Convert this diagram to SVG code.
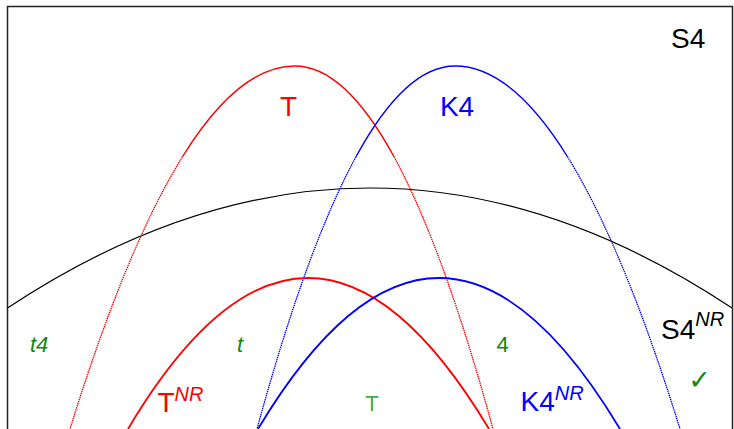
<svg xmlns="http://www.w3.org/2000/svg" width="734" height="429" viewBox="0 0 734 429">
<style>
text{font-family:"Liberation Sans",Arial,sans-serif}
.big{font-size:28px}
.sup{font-size:20px;font-style:italic}
.g{font-size:22px;fill:#118811}
.c{fill:none}
.red{stroke:#ff0000}
.blue{stroke:#0000ff}
.outer{stroke-width:1.4}
.dot{stroke-width:1.3;stroke-dasharray:1.5 0.7}
.inner{stroke-width:1.8}
</style>
<rect x="7.5" y="6.5" width="725" height="440" fill="#ffffff" stroke="#222222" stroke-width="1.5"/>
<g id="connectors">
<path id="S4NR-boundary" class="c" d="M7.5,308 Q370,68 732,308" stroke="#000000" stroke-width="1.2"/>
<g id="T-curve">
<path class="c red outer" d="M182.5,156.75 Q238.75,66 295,66 Q344.5,66 394,156.75"/>
<path class="c red dot" d="M182.5,156.75 Q126.25,247.5 70,429"/>
<path class="c red dot" d="M394,156.75 Q443.5,247.5 493,429"/>
</g>
<g id="K4-curve">
<path class="c blue outer" d="M356,156.75 Q405.5,66 455,66 Q511.25,66 567.5,156.75"/>
<path class="c blue dot" d="M356,156.75 Q306.5,247.5 257,429"/>
<path class="c blue dot" d="M567.5,156.75 Q623.75,247.5 680,429"/>
</g>
<path id="TNR-curve" class="c red inner" d="M128,429 Q218,278 308,278 Q398.5,278 489,429"/>
<path id="K4NR-curve" class="c blue inner" d="M258,429 Q348.5,278 439,278 Q529.5,278 620,429"/>
</g>
<g id="S4"><text class="big" x="671" y="48">S4</text></g>
<g id="T"><text class="big" x="288.5" y="116" fill="#ff0000" text-anchor="middle">T</text></g>
<g id="K4"><text class="big" x="457" y="116" fill="#0000ff" text-anchor="middle">K4</text></g>
<g id="TNR"><text x="157.5" y="412" fill="#ff0000"><tspan class="big">T</tspan><tspan class="sup" dy="-11">NR</tspan></text></g>
<g id="K4NR"><text x="520.5" y="411" fill="#0000ff"><tspan class="big">K4</tspan><tspan class="sup" dy="-11">NR</tspan></text></g>
<g id="S4NR"><text x="661" y="339" fill="#000000"><tspan class="big">S4</tspan><tspan class="sup" dy="-13">NR</tspan></text></g>
<g id="region-t4"><text class="g" x="30" y="352" font-style="italic">t4</text></g>
<g id="region-t"><text class="g" x="240" y="352" font-style="italic" text-anchor="middle">t</text></g>
<g id="region-4"><text class="g" x="502.5" y="352" text-anchor="middle">4</text></g>
<g id="region-T"><text class="g" x="372" y="411" text-anchor="middle" style="fill:#44aa44">T</text></g>
<g id="region-check"><text x="699.5" y="389" text-anchor="middle" font-size="27" fill="#118811" style="font-family:'DejaVu Sans',sans-serif">✓</text></g>
</svg>
